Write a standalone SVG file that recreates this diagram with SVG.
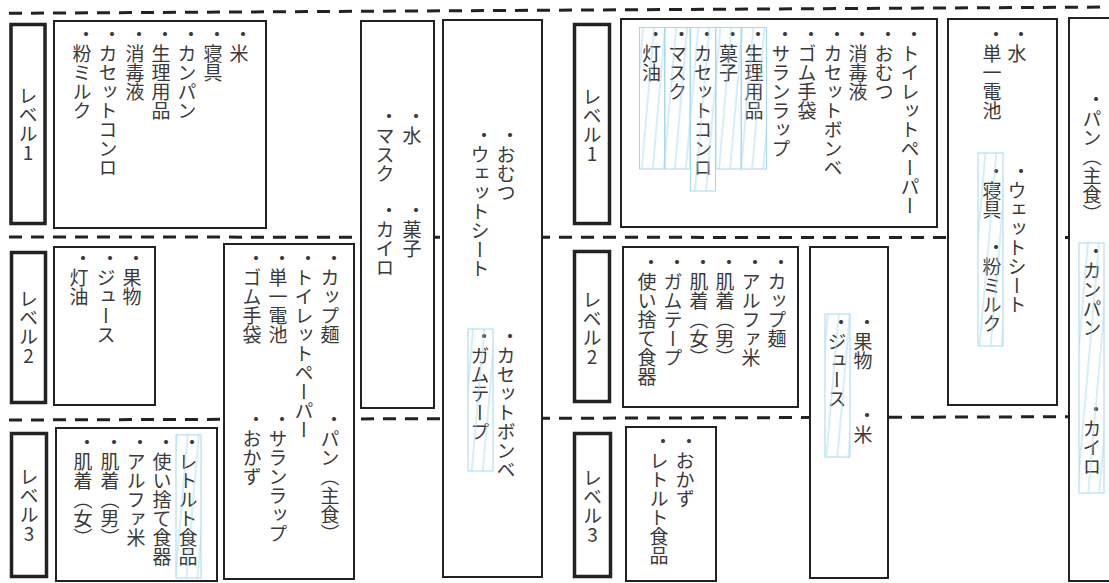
<svg xmlns="http://www.w3.org/2000/svg" width="1109" height="583" viewBox="0 0 1109 583">
<style>
.sep{fill:none;stroke:#222;stroke-width:3;stroke-dasharray:13 9}
.lbl{fill:#fff;stroke:#222;stroke-width:3.5}
.box{fill:#fff;stroke:#222;stroke-width:2}
.t{font-family:"Noto Sans CJK JP","Noto Sans CJK SC",sans-serif;font-size:19px;font-weight:400;fill:#3a3a3a;writing-mode:vertical-rl}
.lt{text-anchor:middle;text-orientation:upright}
.hl{fill:url(#hatch);stroke:#a3d9f1;stroke-width:1}
</style>
<defs>
<pattern id="hatch" patternUnits="userSpaceOnUse" width="11" height="40" patternTransform="rotate(5)">
<line x1="5" y1="0" x2="5" y2="40" stroke="#a3d9f1" stroke-width="0.9"/>
</pattern>
</defs>
<g id="connectors">
<line class="sep" x1="9" y1="13.3" x2="1109" y2="7"/>
<line class="sep" x1="9" y1="237" x2="1109" y2="237.6"/>
<line class="sep" x1="9" y1="420" x2="1109" y2="416.6"/>
</g>
<g id="L1-label"><rect class="lbl" x="11" y="24.5" width="34" height="199"/><text class="t lt" x="28" y="124">レベル1</text></g>
<g id="L1-boxA"><rect class="box" x="54" y="21" width="212" height="207"/>
<text class="t" x="239" y="25.5"><tspan dx="4">・</tspan><tspan dx="-4">米</tspan></text>
<text class="t" x="213" y="25.5"><tspan dx="4">・</tspan><tspan dx="-4">寝具</tspan></text>
<text class="t" x="187" y="25.5"><tspan dx="4">・</tspan><tspan dx="-4">カンパン</tspan></text>
<text class="t" x="161" y="25.5"><tspan dx="4">・</tspan><tspan dx="-4">生理用品</tspan></text>
<text class="t" x="135" y="25.5"><tspan dx="4">・</tspan><tspan dx="-4">消毒液</tspan></text>
<text class="t" x="108" y="25.5"><tspan dx="4">・</tspan><tspan dx="-4">カセットコンロ</tspan></text>
<text class="t" x="82" y="25.5"><tspan dx="4">・</tspan><tspan dx="-4">粉ミルク</tspan></text>
</g>
<g id="boxB"><rect class="box" x="361" y="21" width="73" height="387"/>
<text class="t" x="412" y="107.5"><tspan dx="4">・</tspan><tspan dx="-4">水</tspan></text>
<text class="t" x="385" y="107.5"><tspan dx="4">・</tspan><tspan dx="-4">マスク</tspan></text>
<text class="t" x="412" y="201.5"><tspan dx="4">・</tspan><tspan dx="-4">菓子</tspan></text>
<text class="t" x="385" y="201.5"><tspan dx="4">・</tspan><tspan dx="-4">カイロ</tspan></text>
</g>
<g id="boxC"><rect class="box" x="443" y="20" width="99" height="557"/>
<text class="t" x="506" y="126.5"><tspan dx="4">・</tspan><tspan dx="-4">おむつ</tspan></text>
<text class="t" x="480" y="126.5"><tspan dx="4">・</tspan><tspan dx="-4">ウェットシート</tspan></text>
<text class="t" x="506" y="327.5"><tspan dx="4">・</tspan><tspan dx="-4">カセットボンベ</tspan></text>
<text class="t" x="480" y="327.5"><tspan dx="4">・</tspan><tspan dx="-4">ガムテープ</tspan></text>
<rect class="hl" x="468" y="329" width="25" height="142"/>
</g>
<g id="L2-label"><rect class="lbl" x="11.5" y="252.5" width="34" height="150"/><text class="t lt" x="28.5" y="327">レベル2</text></g>
<g id="boxD"><rect class="box" x="54" y="247" width="101" height="158"/>
<text class="t" x="132" y="249.5"><tspan dx="4">・</tspan><tspan dx="-4">果物</tspan></text>
<text class="t" x="106" y="249.5"><tspan dx="4">・</tspan><tspan dx="-4">ジュース</tspan></text>
<text class="t" x="79" y="249.5"><tspan dx="4">・</tspan><tspan dx="-4">灯油</tspan></text>
</g>
<g id="boxE"><rect class="box" x="224" y="244" width="130" height="335"/>
<text class="t" x="330" y="249.5"><tspan dx="4">・</tspan><tspan dx="-4">カップ麺</tspan></text>
<text class="t" x="304" y="249.5"><tspan dx="4">・</tspan><tspan dx="-4">トイレットペーパー</tspan></text>
<text class="t" x="278" y="249.5"><tspan dx="4">・</tspan><tspan dx="-4">単一電池</tspan></text>
<text class="t" x="252" y="249.5"><tspan dx="4">・</tspan><tspan dx="-4">ゴム手袋</tspan></text>
<text class="t" x="330" y="410.5"><tspan dx="4">・</tspan><tspan dx="-4">パン（主食）</tspan></text>
<text class="t" x="278" y="410.5"><tspan dx="4">・</tspan><tspan dx="-4">サランラップ</tspan></text>
<text class="t" x="252" y="410.5"><tspan dx="4">・</tspan><tspan dx="-4">おかず</tspan></text>
</g>
<g id="L3-label"><rect class="lbl" x="11.5" y="433.5" width="35" height="143"/><text class="t lt" x="29" y="505">レベル3</text></g>
<g id="boxF"><rect class="box" x="56" y="428" width="161" height="153"/>
<text class="t" x="188" y="433.5"><tspan dx="4">・</tspan><tspan dx="-4">レトルト食品</tspan></text>
<text class="t" x="162" y="433.5"><tspan dx="4">・</tspan><tspan dx="-4">使い捨て食器</tspan></text>
<text class="t" x="136" y="433.5"><tspan dx="4">・</tspan><tspan dx="-4">アルファ米</tspan></text>
<text class="t" x="110" y="433.5"><tspan dx="4">・</tspan><tspan dx="-4">肌着（男）</tspan></text>
<text class="t" x="83" y="433.5"><tspan dx="4">・</tspan><tspan dx="-4">肌着（女）</tspan></text>
<rect class="hl" x="176" y="435" width="25" height="143"/>
</g>
<g id="R-L1-label"><rect class="lbl" x="574.5" y="24.5" width="35" height="199"/><text class="t lt" x="592" y="125">レベル1</text></g>
<g id="boxG"><rect class="box" x="621" y="19" width="316" height="208"/>
<text class="t" x="910" y="25.5"><tspan dx="4">・</tspan><tspan dx="-4">トイレットペーパー</tspan></text>
<text class="t" x="884" y="25.5"><tspan dx="4">・</tspan><tspan dx="-4">おむつ</tspan></text>
<text class="t" x="858" y="25.5"><tspan dx="4">・</tspan><tspan dx="-4">消毒液</tspan></text>
<text class="t" x="833" y="25.5"><tspan dx="4">・</tspan><tspan dx="-4">カセットボンベ</tspan></text>
<text class="t" x="807" y="25.5"><tspan dx="4">・</tspan><tspan dx="-4">ゴム手袋</tspan></text>
<text class="t" x="781" y="25.5"><tspan dx="4">・</tspan><tspan dx="-4">サランラップ</tspan></text>
<text class="t" x="754" y="25.5"><tspan dx="4">・</tspan><tspan dx="-4">生理用品</tspan></text>
<text class="t" x="728.5" y="25.5"><tspan dx="4">・</tspan><tspan dx="-4">菓子</tspan></text>
<text class="t" x="703" y="25.5"><tspan dx="4">・</tspan><tspan dx="-4">カセットコンロ</tspan></text>
<text class="t" x="677.5" y="25.5"><tspan dx="4">・</tspan><tspan dx="-4">マスク</tspan></text>
<text class="t" x="651.5" y="25.5"><tspan dx="4">・</tspan><tspan dx="-4">灯油</tspan></text>
<rect class="hl" x="639.5" y="27.5" width="25" height="141.5"/>
<rect class="hl" x="665" y="27.5" width="25" height="141.5"/>
<rect class="hl" x="690.5" y="27.5" width="25" height="163.5"/>
<rect class="hl" x="716" y="27.5" width="25" height="141.5"/>
<rect class="hl" x="741.5" y="27.5" width="25" height="141.5"/>
</g>
<g id="R-L2-label"><rect class="lbl" x="574.5" y="251.5" width="35" height="150"/><text class="t lt" x="592" y="328">レベル2</text></g>
<g id="boxJ"><rect class="box" x="623" y="247" width="175" height="160"/>
<text class="t" x="777" y="253.5"><tspan dx="4">・</tspan><tspan dx="-4">カップ麺</tspan></text>
<text class="t" x="751" y="253.5"><tspan dx="4">・</tspan><tspan dx="-4">アルファ米</tspan></text>
<text class="t" x="725" y="253.5"><tspan dx="4">・</tspan><tspan dx="-4">肌着（男）</tspan></text>
<text class="t" x="699" y="253.5"><tspan dx="4">・</tspan><tspan dx="-4">肌着（女）</tspan></text>
<text class="t" x="673" y="253.5"><tspan dx="4">・</tspan><tspan dx="-4">ガムテープ</tspan></text>
<text class="t" x="647" y="253.5"><tspan dx="4">・</tspan><tspan dx="-4">使い捨て食器</tspan></text>
</g>
<g id="boxK"><rect class="box" x="810" y="247" width="78" height="331"/>
<text class="t" x="863" y="313.5"><tspan dx="4">・</tspan><tspan dx="-4">果物</tspan></text>
<text class="t" x="837" y="313.5"><tspan dx="4">・</tspan><tspan dx="-4">ジュース</tspan></text>
<text class="t" x="863" y="406.5"><tspan dx="4">・</tspan><tspan dx="-4">米</tspan></text>
<rect class="hl" x="825" y="314" width="25" height="143"/>
</g>
<g id="R-L3-label"><rect class="lbl" x="574.5" y="433.5" width="36" height="143"/><text class="t lt" x="592.5" y="506">レベル3</text></g>
<g id="boxL"><rect class="box" x="626" y="427" width="90" height="154"/>
<text class="t" x="685" y="432.5"><tspan dx="4">・</tspan><tspan dx="-4">おかず</tspan></text>
<text class="t" x="659" y="432.5"><tspan dx="4">・</tspan><tspan dx="-4">レトルト食品</tspan></text>
</g>
<g id="boxH"><rect class="box" x="948" y="19" width="109" height="386"/>
<text class="t" x="1017" y="25.5"><tspan dx="4">・</tspan><tspan dx="-4">水</tspan></text>
<text class="t" x="992" y="25.5"><tspan dx="4">・</tspan><tspan dx="-4">単一電池</tspan></text>
<text class="t" x="1017" y="162.5"><tspan dx="4">・</tspan><tspan dx="-4">ウェットシート</tspan></text>
<text class="t" x="992" y="162.5"><tspan dx="4">・</tspan><tspan dx="-4">寝具</tspan></text>
<text class="t" x="992" y="238.5"><tspan dx="4">・</tspan><tspan dx="-4">粉ミルク</tspan></text>
<rect class="hl" x="978" y="153" width="25" height="193"/>
</g>
<g id="boxI"><rect class="box" x="1069" y="18" width="60" height="563"/>
<text class="t" x="1092" y="90.5"><tspan dx="4">・</tspan><tspan dx="-4">パン（主食）</tspan></text>
<text class="t" x="1092" y="242.5"><tspan dx="4">・</tspan><tspan dx="-4">カンパン</tspan></text>
<text class="t" x="1092" y="400.5"><tspan dx="4">・</tspan><tspan dx="-4">カイロ</tspan></text>
<rect class="hl" x="1079" y="243" width="25" height="250"/>
</g>
</svg>
